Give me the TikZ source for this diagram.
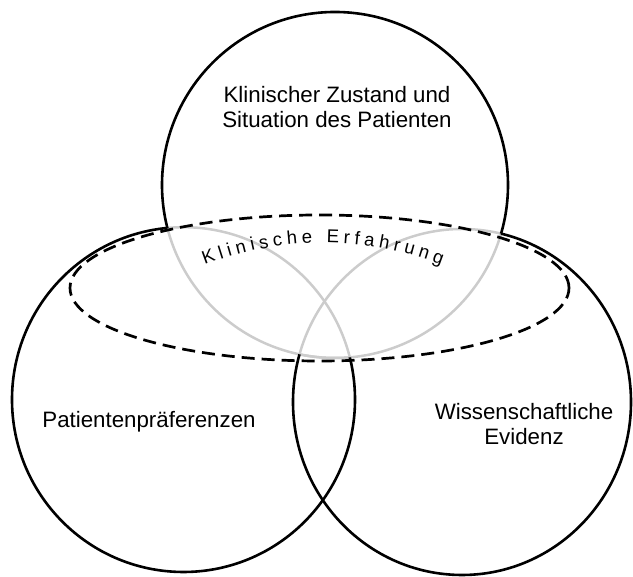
\documentclass[tikz,border=0pt]{standalone}
\usepackage{fontspec}
\setmainfont{Liberation Sans}
\usetikzlibrary{decorations.text}
\definecolor{overlapgray}{RGB}{204,204,204}
\begin{document}
\begin{tikzpicture}[x=1pt,y=1pt,
  ring/.style={line width=2.6pt,draw=black},
  innerring/.style={line width=2.5pt,draw=overlapgray},
  experience/.style={line width=2.7pt,draw=black,dash pattern=on 13pt off 7pt},
  venntext/.style={font=\fontsize{22.3}{25.5}\selectfont,align=center,inner sep=0pt}]
\useasboundingbox (0,0) rectangle (633,577);
% centres of the three sets and of the dashed ellipse
\coordinate (tc) at (335,392);
\coordinate (lc) at (183.5,177.4);
\coordinate (rc) at (462,175);
\coordinate (ec) at (319.5,289);

% grey arcs: parts of a circle lying inside another one
\begin{scope}
  \clip (lc) ellipse [x radius=171.5,y radius=172.4];
  \draw[innerring] (tc) circle [radius=173];
\end{scope}
\begin{scope}
  \clip (rc) ellipse [x radius=169,y radius=173];
  \draw[innerring] (tc) circle [radius=173];
\end{scope}
\begin{scope}
  \clip (tc) circle [radius=173];
  \draw[innerring] (lc) ellipse [x radius=171.5,y radius=172.4];
  \draw[innerring] (rc) ellipse [x radius=169,y radius=173];
\end{scope}

% black arcs: the outer outline
\begin{scope}[even odd rule]
  \clip (-10,-10) rectangle (643,587)
        (355,177.4) arc[start angle=0,end angle=-360,x radius=171.5,y radius=172.4] -- cycle;
  \clip (-10,-10) rectangle (643,587)
        (631,175) arc[start angle=0,end angle=-360,x radius=169,y radius=173] -- cycle;
  \draw[ring] (tc) circle [radius=173];
\end{scope}
\begin{scope}[even odd rule]
  \clip (-10,-10) rectangle (643,587)
        (508,392) arc[start angle=0,end angle=-360,radius=173] -- cycle;
  \draw[ring] (lc) ellipse [x radius=171.5,y radius=172.4];
  \draw[ring] (rc) ellipse [x radius=169,y radius=173];
\end{scope}

% clinical experience
\draw[experience] (ec) ellipse [x radius=249.5,y radius=73];
\path[decorate,decoration={text along path,
    text={|\fontsize{18.5}{20}\selectfont|Klinische Erfahrung},
    text align={fit to path}}]
  (204.7,312.1) arc[start angle=111,end angle=69,radius=330];

% labels
\node[venntext] (zustand) at (337,470) {Klinischer Zustand und\\Situation des Patienten};
\node[venntext] (praeferenz) at (149,155) {Patientenpräferenzen};
\node[venntext] (evidenz) at (524,153) {Wissenschaftliche\\Evidenz};
\end{tikzpicture}
\end{document}
